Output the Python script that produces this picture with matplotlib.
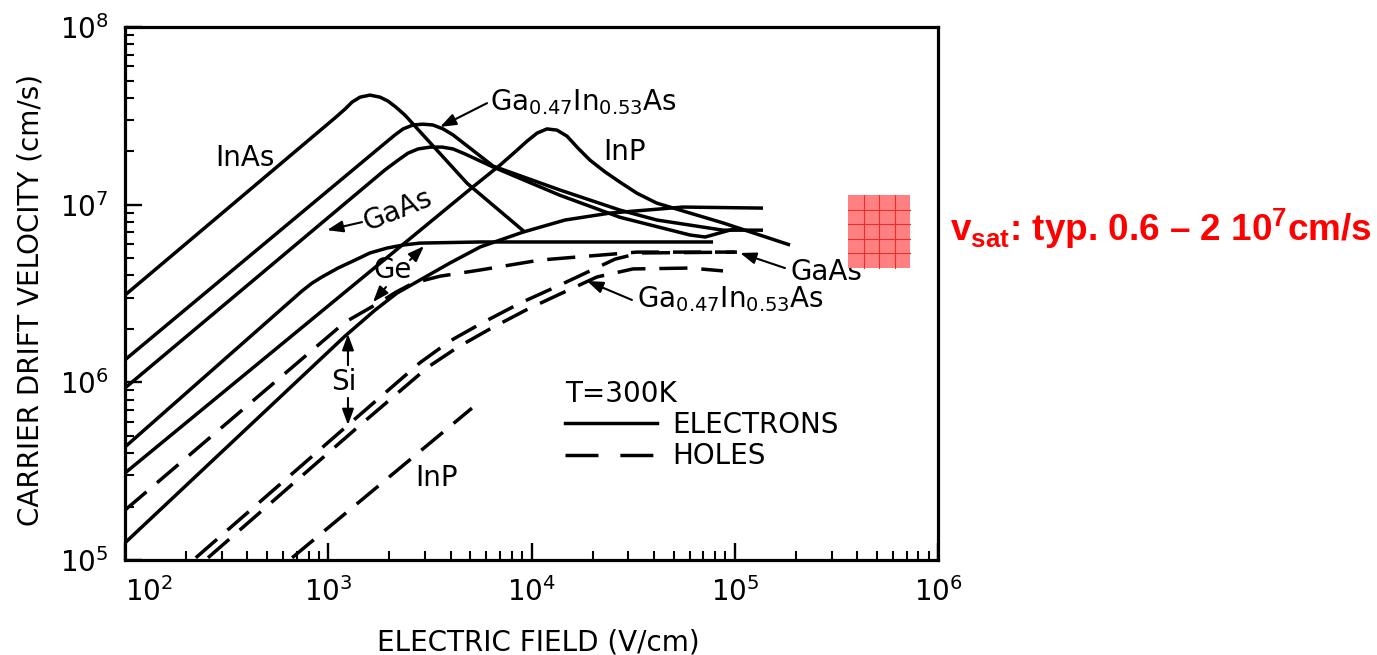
import numpy as np
import matplotlib
matplotlib.use("Agg")
import matplotlib.pyplot as plt
from matplotlib.lines import Line2D
from matplotlib.patches import Rectangle
from matplotlib.ticker import LogLocator, NullFormatter

# Carrier drift velocity vs electric field, T = 300 K

# electrons (solid)
inas_E = [100, 1079, 1208, 1309, 1432, 1603, 1799, 1968, 2153, 2386, 4820, 9290]
inas_v = [3.10e6, 3.08e7, 3.45e7, 3.78e7, 4.03e7, 4.14e7, 4.03e7, 3.83e7, 3.54e7, 3.19e7, 1.32e7, 7.0e6]

gainas_e_E = [100, 1901, 2128, 2334, 2612, 2924, 3273, 3673, 4111, 6470, 13800, 27200, 41400, 87500, 137700]
gainas_e_v = [1.34e6, 2.22e7, 2.47e7, 2.67e7, 2.81e7, 2.84e7, 2.81e7, 2.67e7, 2.47e7, 1.65e7, 1.21e7,
              9.33e6, 8.2e6, 7.19e6, 7.19e6]

gaas_e_E = [100, 1901, 2203, 2466, 2767, 3170, 3631, 4111, 4710, 6470, 13800, 27200, 60300, 71500, 102500]
gaas_e_v = [9.3e5, 1.57e7, 1.78e7, 1.95e7, 2.06e7, 2.11e7, 2.11e7, 2.06e7, 1.93e7, 1.63e7, 1.13e7,
            8.5e6, 6.75e6, 6.58e6, 7.38e6]

inp_e_E = [100, 5150, 7000, 8290, 9510, 10650, 11910, 13340, 14960, 16940, 19410, 23000, 27230,
           33040, 41400, 87500, 187100]
inp_e_v = [3.09e5, 1.26e7, 1.67e7, 1.98e7, 2.28e7, 2.53e7, 2.67e7, 2.63e7, 2.43e7, 2.08e7, 1.78e7,
           1.53e7, 1.34e7, 1.16e7, 1.02e7, 7.9e6, 5.93e6]

ge_e_E = [100, 743, 832, 931, 1117, 1355, 1603, 1945, 2334, 2825, 5585, 78200]
ge_e_v = [4.33e5, 3.27e6, 3.62e6, 3.92e6, 4.40e6, 4.88e6, 5.35e6, 5.70e6, 5.93e6, 6.08e6, 6.17e6, 6.17e6]

si_e_E = [100, 1208, 1698, 2178, 3972, 5585, 9078, 14620, 24300, 55600, 137700]
si_e_v = [1.25e5, 1.82e6, 2.55e6, 3.18e6, 4.70e6, 5.78e6, 7.01e6, 8.2e6, 8.97e6, 9.70e6, 9.57e6]

# holes (dashed)
ge_h_E = [100, 1208, 1799, 2153, 2612, 3548, 5585, 11000, 33000, 100200]
ge_h_v = [1.91e5, 2.18e6, 2.83e6, 3.22e6, 3.62e6, 3.96e6, 4.29e6, 4.88e6, 5.41e6, 5.41e6]

si_h_E = [223, 1250, 2825, 3972, 5585, 8770, 13800, 19410, 25760, 34200, 102500]
si_h_v = [1.03e5, 5.75e5, 1.29e6, 1.71e6, 2.13e6, 2.79e6, 3.53e6, 4.24e6, 4.94e6, 5.35e6, 5.41e6]

gainas_h_E = [256, 1400, 3097, 4345, 6252, 9616, 14120, 20990, 31550, 60260, 87500]
gainas_h_v = [1.03e5, 5.61e5, 1.22e6, 1.58e6, 2.00e6, 2.59e6, 3.18e6, 3.92e6, 4.35e6, 4.40e6, 4.24e6]

inp_h_E = [664, 5090]
inp_h_v = [1.03e5, 7.16e5]

x_major = [1e2, 1e3, 1e4, 1e5, 1e6]
x_tick_labels = [r"$10^{2}$", r"$10^{3}$", r"$10^{4}$", r"$10^{5}$", r"$10^{6}$"]
y_major = [1e5, 1e6, 1e7, 1e8]
y_tick_labels = [r"$10^{5}$", r"$10^{6}$", r"$10^{7}$", r"$10^{8}$"]

plt.rcParams["font.family"] = ["DejaVu Sans"]
plt.rcParams["mathtext.fontset"] = "custom"
plt.rcParams["mathtext.rm"] = "DejaVu Sans"
plt.rcParams["mathtext.it"] = "DejaVu Sans:italic"
plt.rcParams["mathtext.bf"] = "Liberation Sans:bold"

LW = 2.5
FS = 20
HOLE_DASH = (8.1, 4.0)

fig = plt.figure(figsize=(13.77, 6.55), dpi=100)
ax = fig.add_axes([0.0908, 0.1450, 0.5904, 0.8137])
ax.set_xscale("log")
ax.set_yscale("log")
ax.set_xlim(1e2, 1e6)
ax.set_ylim(1e5, 1e8)

for E, v in [(inas_E, inas_v), (gainas_e_E, gainas_e_v), (gaas_e_E, gaas_e_v),
             (inp_e_E, inp_e_v), (ge_e_E, ge_e_v), (si_e_E, si_e_v)]:
    ax.plot(E, v, color="black", lw=LW, solid_joinstyle="round", solid_capstyle="butt")

for E, v in [(ge_h_E, ge_h_v), (si_h_E, si_h_v), (gainas_h_E, gainas_h_v), (inp_h_E, inp_h_v)]:
    ax.plot(E, v, color="black", lw=LW, dashes=HOLE_DASH, dash_capstyle="butt")

# axes styling
for sp in ax.spines.values():
    sp.set_linewidth(2.3)
ax.set_xticks(x_major)
ax.set_xticklabels(x_tick_labels)
ax.set_yticks(y_major)
ax.set_yticklabels(y_tick_labels)
ax.xaxis.set_minor_locator(LogLocator(base=10, subs=np.arange(2, 10)))
ax.yaxis.set_minor_locator(LogLocator(base=10, subs=np.arange(2, 10)))
ax.xaxis.set_minor_formatter(NullFormatter())
ax.yaxis.set_minor_formatter(NullFormatter())
ax.tick_params(which="major", direction="in", length=12, width=1.7, labelsize=FS, pad=12,
               top=False, right=False)
ax.tick_params(which="minor", direction="in", length=6.5, width=1.5, top=False, right=False)
ax.get_xticklabels()[0].set_ha("left")

ax.set_xlabel("ELECTRIC FIELD (V/cm)", fontsize=FS)
ax.xaxis.set_label_coords(0.508, -0.128)
ax.set_ylabel("CARRIER DRIFT VELOCITY (cm/s)", fontsize=FS)
ax.yaxis.set_label_coords(-0.0996, 0.488)

# curve labels
ax.text(389, 1.83e7, "InAs", ha="center", va="center", fontsize=FS)
ax.text(2203, 9.33e6, "GaAs", ha="center", va="center", fontsize=FS, rotation=22)
ax.text(6252, 3.41e7, r"Ga$_{0.47}$In$_{0.53}$As", ha="left", va="baseline", fontsize=FS)
ax.text(28840, 1.98e7, "InP", ha="center", va="center", fontsize=FS)
ax.text(2084, 4.29e6, "Ge", ha="center", va="center", fontsize=FS)
ax.text(1194, 1.0e6, "Si", ha="center", va="center", fontsize=FS)
ax.text(3428, 2.89e5, "InP", ha="center", va="center", fontsize=FS)
ax.text(187100, 4.18e6, "GaAs", ha="left", va="center", fontsize=FS)
ax.text(33040, 2.65e6, r"Ga$_{0.47}$In$_{0.53}$As", ha="left", va="baseline", fontsize=FS)

# pointer arrows (tail -> tip)
arrows = [((1466, 7.98e6), (986, 7.19e6)),
          ((6040, 3.73e7), (3548, 2.74e7)),
          ((2523, 4.88e6), (2958, 5.85e6)),
          ((1923, 3.44e6), (1660, 2.83e6)),
          ((1250, 1.25e6), (1250, 1.87e6)),
          ((1250, 8.17e5), (1250, 5.75e5)),
          ((176600, 4.40e6), (106200, 5.35e6)),
          ((31190, 2.91e6), (18750, 3.72e6))]
for tail, tip in arrows:
    ax.annotate("", xy=tip, xytext=tail,
                arrowprops=dict(arrowstyle="-|>,head_length=0.6,head_width=0.22", color="black",
                                lw=1.5, mutation_scale=16, shrinkA=0, shrinkB=0))

# legend
h_e = Line2D([], [], color="black", lw=LW)
h_h = Line2D([], [], color="black", lw=LW, dashes=(9.5, 6.3))
ax.legend([h_e, h_h], ["ELECTRONS", "HOLES"], title="T=300K", loc="upper left",
          bbox_to_anchor=(0.541, 0.3386), frameon=False, fontsize=FS, title_fontsize=FS,
          handlelength=3.3, handletextpad=0.58, labelspacing=0.12, borderpad=0,
          borderaxespad=0, alignment="left")

# red note marker and annotation
W, H = 1377.0, 655.0
x0, y0, w, h = 848, 195, 62, 73
fig.add_artist(Rectangle((x0 / W, 1 - (y0 + h) / H), w / W, h / H, transform=fig.transFigure,
                         facecolor="#ff8080", edgecolor="none"))
for i in range(1, 4):
    xx = (x0 + i * w / 4) / W
    fig.add_artist(Line2D([xx, xx], [1 - (y0 + h) / H, 1 - y0 / H], transform=fig.transFigure,
                          color="#e53030", lw=0.8))
for j in range(1, 5):
    yy = 1 - (y0 + j * h / 5) / H
    fig.add_artist(Line2D([x0 / W, (x0 + w) / W], [yy, yy], transform=fig.transFigure,
                          color="#e53030", lw=0.8))

fig.text(950 / W, 1 - 241 / H, r"v$_{\mathbf{sat}}$: typ. 0.6 – 2 10$^{\mathbf{7}}$cm/s",
         color="#ff0000", fontsize=26.6, fontweight="bold", family="Liberation Sans",
         ha="left", va="baseline")

fig.savefig("out.png", dpi=100)
